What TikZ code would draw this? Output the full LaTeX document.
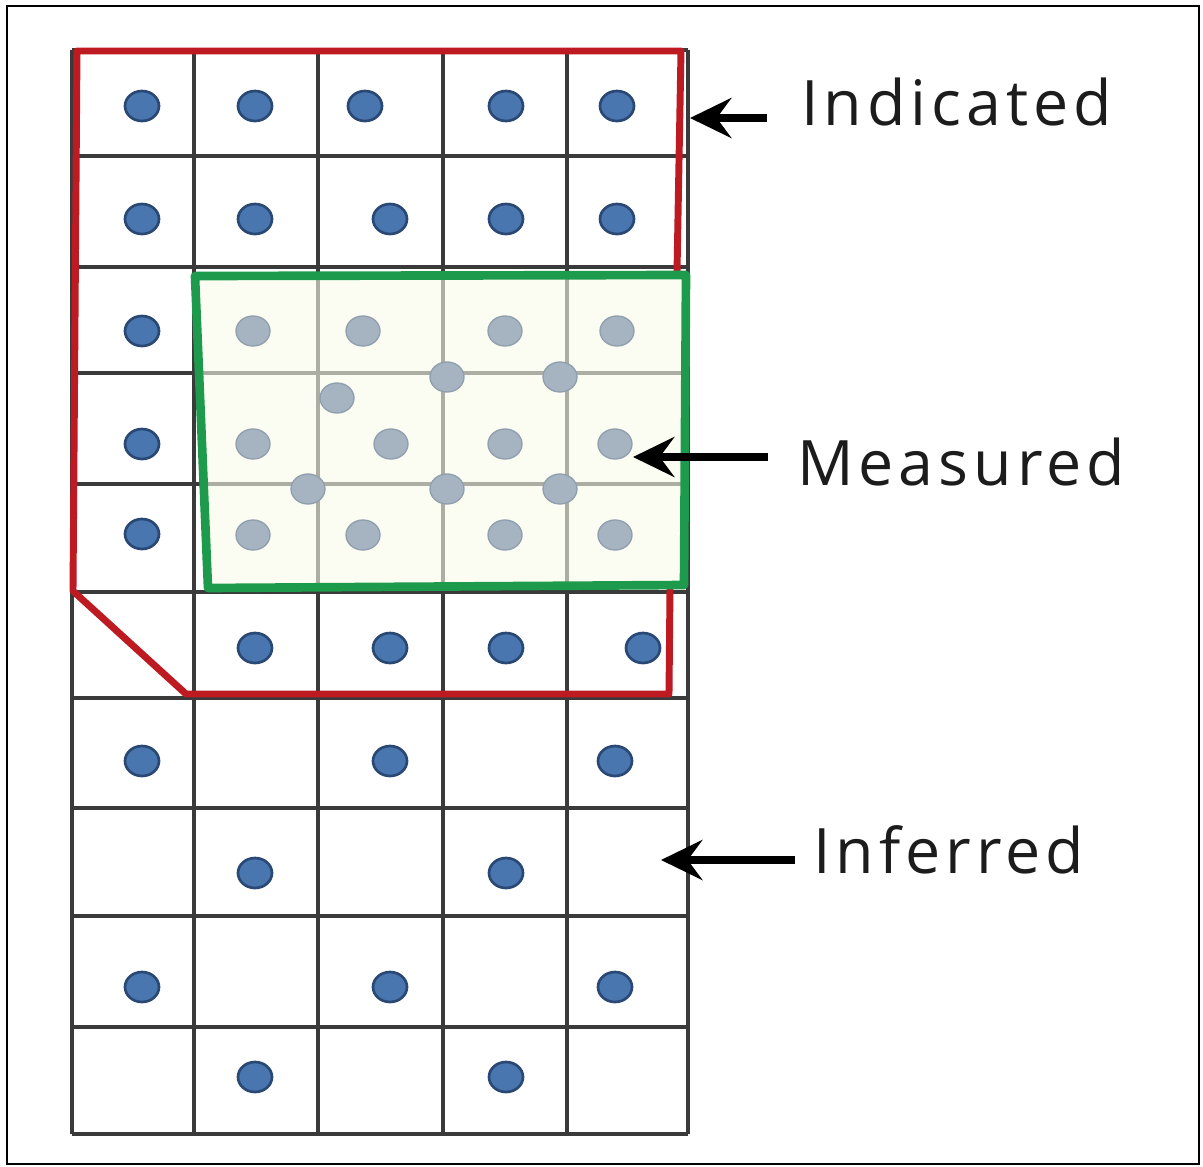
\documentclass[tikz,border=0pt]{standalone}
\usepackage{fontspec}
\setmainfont{Open Sans}[LetterSpace=8]
\usetikzlibrary{arrows.meta}
\definecolor{gridline}{HTML}{3A3A3A}
\definecolor{zonered}{HTML}{BE1A22}
\definecolor{zonegreen}{HTML}{1E9A4C}
\definecolor{zonefill}{HTML}{FBFCEA}
\definecolor{dotblue}{HTML}{4A76B0}
\definecolor{dotblueedge}{HTML}{2A4874}
\definecolor{dotgray}{HTML}{A6B4C1}
\definecolor{dotgrayedge}{HTML}{909FAE}
\definecolor{labeltext}{HTML}{1C1C1C}
\tikzset{
  gridrule/.style={draw=gridline, line width=2.6pt},
  bluedot/.style={fill=dotblue, draw=dotblueedge, line width=2pt},
  graydot/.style={fill=dotgray, draw=dotgrayedge, line width=1pt},
  indicatedzone/.style={draw=zonered, line width=5.2pt, line join=round},
  measuredzone/.style={draw=zonegreen, line width=6.5pt, line join=round},
  pointer/.style={draw=black, line width=5.5pt,
    -{Stealth[length=31pt, width=30pt, inset=11pt]}},
  classlabel/.style={anchor=base west, inner sep=0pt, text=labeltext,
    font=\fontsize{47}{50}\selectfont}
}
\begin{document}
\begin{tikzpicture}[x=0.75pt, y=-0.75pt]
  % canvas and frame
  \useasboundingbox (0,0) rectangle (1203,1167);
  \fill[white] (0,0) rectangle (1203,1167);
  \draw[black, line width=1.8pt] (7,6) rectangle (1199,1164);

  % block grid
  \foreach \x in {72,194,318,443,567,688}
    \draw[gridrule] (\x,50) -- (\x,1134);
  \foreach \y in {50,156,267,373,484,592,698,808,916,1027,1134}
    \draw[gridrule] (72,\y) -- (688,\y);

  % indicated outline (its right edge runs on beneath the measured zone)
  \draw[indicatedzone] (677,272) -- (681,51) -- (77,51) -- (73,591)
    -- (186,694) -- (669,694) -- (670,588);

  % measured zone background (lightens the grid beneath it)
  \fill[zonefill, opacity=0.6] (195,276) -- (686,275) -- (684,585) -- (208,588) -- cycle;

  % drill holes outside the measured zone
  \foreach \x/\y in {142/106,255/106,365/106,506/106,617/106,
                     142/219,255/219,390/219,506/219,617/219,
                     142/331,142/444,142/534,
                     255/648,390/648,506/648,643/648,
                     142/761,390/761,615/761,
                     255/873,506/873,
                     142/987,390/987,615/987,
                     255/1077,506/1077}
    \path[bluedot] (\x,\y) ellipse [x radius=17, y radius=15];

  % infill drill holes inside the measured zone
  \foreach \x/\y in {253/331,363/331,505/331,617/331,
                     447/377,560/377,337/398,
                     253/444,391/444,505/444,615/444,
                     308/489,447/489,560/489,
                     253/535,363/535,505/535,615/535}
    \path[graydot] (\x,\y) ellipse [x radius=17, y radius=15];

  % measured outline
  \draw[measuredzone] (195,276) -- (686,275) -- (684,585) -- (208,588) -- cycle;

  % labels
  \node[classlabel] (indicated) at (801,125) {Indicated};
  \node[classlabel] (measured)  at (797,485) {Measured};
  \node[classlabel] (inferred)  at (813,873) {Inferred};

  % pointers
  \coordinate (indTail) at (767,118);
  \coordinate (indTip)  at (690,118);
  \coordinate (meaTail) at (768,457);
  \coordinate (meaTip)  at (633,457);
  \coordinate (infTail) at (795,860);
  \coordinate (infTip)  at (661,860);
  \draw[pointer] (indTail) -- (indTip);
  \draw[pointer] (meaTail) -- (meaTip);
  \draw[pointer] (infTail) -- (infTip);
\end{tikzpicture}
\end{document}
